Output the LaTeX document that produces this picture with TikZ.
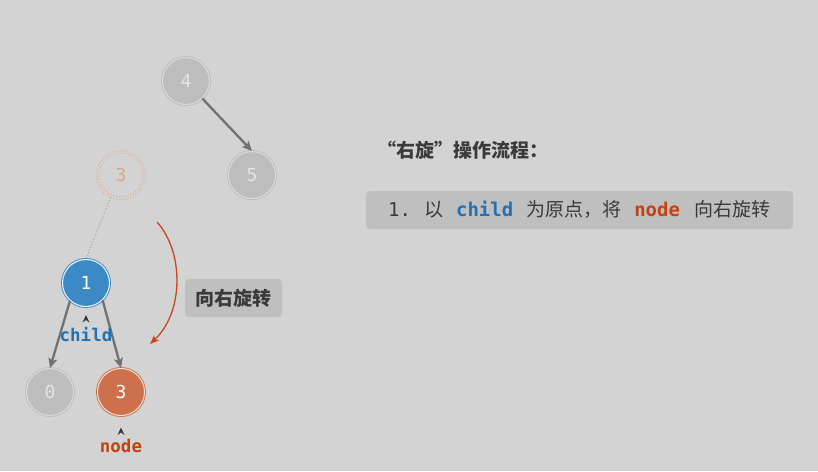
\documentclass[tikz,border=0pt]{standalone}
\usepackage{fontspec}
\setmainfont{Noto Sans CJK SC}
\setmonofont{DejaVu Sans Mono}
\usetikzlibrary{arrows.meta}
\definecolor{bg}{HTML}{D3D3D3}
\definecolor{grayfill}{HTML}{BDBDBD}
\definecolor{grayring}{HTML}{DADADA}
\definecolor{graytext}{HTML}{E4E4E4}
\definecolor{bluefill}{HTML}{3C8AC5}
\definecolor{bluering}{HTML}{E8F0F8}
\definecolor{orangefill}{HTML}{CE704B}
\definecolor{orangering}{HTML}{F2DDD3}
\definecolor{ghost}{HTML}{E2A488}
\definecolor{edgegray}{HTML}{717171}
\definecolor{rotred}{HTML}{C9471D}
\definecolor{boxgray}{HTML}{BFBFBF}
\definecolor{textdark}{HTML}{3A3A3A}
\definecolor{childblue}{HTML}{2271B3}
\definecolor{nodered}{HTML}{C4420F}
\newcommand{\msp}{\hspace{13pt}}
\tikzset{
  tnode/.style={circle, minimum size=47pt, inner sep=0pt, line width=0.9pt, double distance=1.1pt, font=\ttfamily\fontsize{18}{18}\selectfont},
  graynode/.style={tnode, fill=grayfill, draw=grayfill, double=grayring, text=graytext},
  bluenode/.style={tnode, fill=bluefill, draw=bluefill, double=bluering, text=white},
  orangenode/.style={tnode, fill=orangefill, draw=orangefill, double=orangering, text=white},
  edge/.style={draw=edgegray, line width=2.3pt, -{Stealth[length=10pt,width=9pt,inset=2.5pt]}},
  pointer/.style={fill=textdark},
  labelbox/.style={fill=boxgray, rounded corners=4pt, inner sep=0pt},
  cjk/.style={font=\bfseries\fontsize{19}{19}\selectfont, text=textdark},
}
\begin{document}
\begin{tikzpicture}[x=1pt,y=-1pt]
\fill[bg] (0,0) rectangle (818,471);
\useasboundingbox (0,0) rectangle (818,471);

% nodes
\node[graynode] (n4) at (186,81) {4};
\node[graynode] (n5) at (252,175) {5};
\node[circle, minimum size=49pt, inner sep=0pt, draw=ghost, dotted, line width=0.9pt, text=ghost, font=\ttfamily\fontsize{18}{18}\selectfont] (g3) at (121,175) {3};
\draw[ghost, dotted, line width=0.9pt] (g3.center) circle[radius=22pt];
\node[bluenode] (n1) at (86,283) {1};
\node[graynode] (n0) at (50,392) {0};
\node[orangenode] (n3) at (121,392) {3};

% edges
\draw[edge] (n4.-47) -- (n5.north);
\draw[edge] (n1.-132) -- (n0.north);
\draw[edge] (n1.-46) -- (n3.north);
\draw[edgegray!80, dotted, line width=0.8pt] (g3.-115) -- (n1.north);

% labels under nodes
\node[font=\ttfamily\bfseries\fontsize{17.5}{17.5}\selectfont, text=childblue] (lchild) at (86,335) {child};
\coordinate (pc1) at (86,322.5);
\coordinate (pc2) at (86,315);
\fill[pointer] ([xshift=-3.5pt]pc1) -- (pc2) -- ([xshift=3.5pt]pc1) -- ([yshift=2.5pt]pc1) -- cycle;
\node[font=\ttfamily\bfseries\fontsize{17.5}{17.5}\selectfont, text=nodered] (lnode) at (121,446) {node};
\coordinate (pn1) at (121,435);
\coordinate (pn2) at (121,427.5);
\fill[pointer] ([xshift=-3.5pt]pn1) -- (pn2) -- ([xshift=3.5pt]pn1) -- ([yshift=2.5pt]pn1) -- cycle;

% rotation arrow
\coordinate (r1) at (157,222);
\coordinate (r2) at (150,344);
\draw[rotred, line width=1.3pt, -{Stealth[length=9pt,width=7pt,inset=2pt]}] (r1) .. controls (184,252) and (184,312) .. (r2);

% rotation label box
\node[labelbox, minimum width=97pt, minimum height=38pt, cjk] (rlab) at (233.5,298) {向右旋转};

% right side
\node[anchor=west, inner sep=0pt, cjk] (title) at (377,150.5) {“右旋”操作流程：};
\node[labelbox, minimum width=427pt, minimum height=38pt, anchor=west] (step1) at (366,210) {};
\node[anchor=west, inner sep=0pt, font=\fontsize{19}{19}\selectfont, text=textdark] (step1t) at (388,210) {\texttt{1.}\msp 以\msp\textcolor{childblue}{\texttt{\bfseries child}}\msp 为原点，将\msp\textcolor{nodered}{\texttt{\bfseries node}}\hspace{14.5pt}向右旋转};
\end{tikzpicture}
\end{document}
